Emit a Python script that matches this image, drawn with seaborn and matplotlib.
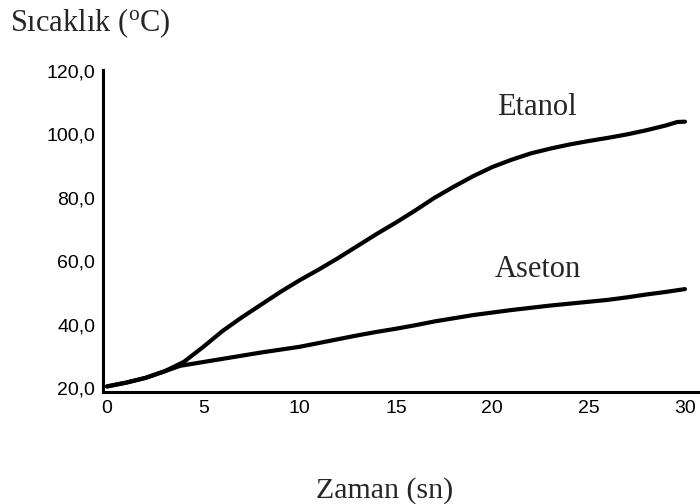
import matplotlib
matplotlib.use("Agg")
import matplotlib.pyplot as plt
import seaborn as sns
import pandas as pd

time_etanol = [0, 1, 2, 3, 4, 5, 6, 7, 8, 9, 10, 11, 12, 13, 14, 15, 16, 17, 18, 19, 20,
               21, 22, 23, 24, 25, 26, 27, 28, 29, 29.6, 30]
temp_etanol = [20.5, 21.7, 23.2, 25.3, 28.3, 33.0, 38.0, 42.3, 46.3, 50.3, 54.0, 57.4, 61.0,
               64.8, 68.6, 72.2, 76.0, 80.0, 83.5, 86.8, 89.7, 92.0, 94.0, 95.5, 96.8, 97.9,
               98.9, 100.0, 101.3, 102.8, 103.9, 104.0]
time_aseton = [0, 1, 2, 3, 3.8, 5, 6, 7, 8, 9, 10, 11, 12, 13, 14, 15, 16, 17, 18, 19, 20,
               21, 22, 23, 24, 25, 26, 27, 28, 29, 30]
temp_aseton = [20.5, 21.7, 23.2, 25.3, 27.0, 28.2, 29.2, 30.2, 31.2, 32.1, 33.0, 34.2, 35.4,
               36.6, 37.7, 38.7, 39.8, 41.0, 42.0, 43.0, 43.8, 44.6, 45.3, 46.0, 46.6, 47.2,
               47.8, 48.6, 49.5, 50.3, 51.2]
x_ticks = [0, 5, 10, 15, 20, 25, 30]
y_ticks = [20, 40, 60, 80, 100, 120]
y_labels = ["20,0", "40,0", "60,0", "80,0", "100,0", "120,0"]

df = pd.concat([
    pd.DataFrame({"t": time_etanol, "T": temp_etanol, "s": "Etanol"}),
    pd.DataFrame({"t": time_aseton, "T": temp_aseton, "s": "Aseton"}),
])

sns.set_style("white")
W, H = 700, 504
fig = plt.figure(figsize=(7, 5.04), dpi=100)
ax = fig.add_axes([103 / W, 1 - 392 / H, (700 - 103) / W, (392 - 70) / H])
sns.lineplot(data=df, x="t", y="T", units="s", estimator=None, color="black",
             linewidth=3.0, ax=ax, sort=True)

ax.set_xlim(-0.21, 30.78)
ax.set_ylim(18.74, 120.3)
ax.set_xticks(x_ticks)
ax.set_xticklabels([str(v) for v in x_ticks])
ax.set_yticks(y_ticks)
ax.set_yticklabels(y_labels)
for s in ["top", "right"]:
    ax.spines[s].set_visible(False)
for s in ["left", "bottom"]:
    ax.spines[s].set_linewidth(2.2)
    ax.spines[s].set_color("black")
ax.tick_params(axis="both", direction="out", length=5, width=1.6, colors="black",
               labelsize=14, pad=0.5)
for lab in ax.get_xticklabels() + ax.get_yticklabels():
    lab.set_fontfamily(["DejaVu Sans Condensed", "Liberation Sans"])
ax.set_xlabel("")
ax.set_ylabel("")

serif = "Liberation Serif"
fig.text(10 / W, 1 - 31 / H, r"Sıcaklık ($\mathregular{^o}$C)", fontsize=22,
         family=serif, va="baseline", ha="left")
fig.text(385 / W, 1 - 498 / H, "Zaman (sn)", fontsize=21.5, family=serif,
         va="baseline", ha="center")
fig.text(497 / W, 1 - 115 / H, "Etanol", fontsize=22, family=serif,
         va="baseline", ha="left")
fig.text(495 / W, 1 - 277 / H, "Aseton", fontsize=22, family=serif,
         va="baseline", ha="left")

fig.savefig("out.png", dpi=100)
